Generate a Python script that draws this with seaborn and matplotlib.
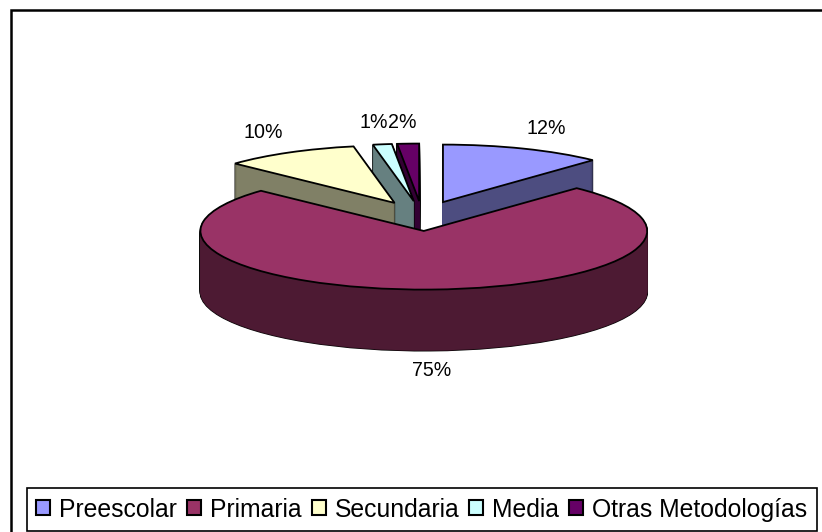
import numpy as np
import matplotlib
matplotlib.use('Agg')
import matplotlib.pyplot as plt
from matplotlib.lines import Line2D
from matplotlib.patches import Patch
import seaborn as sns

categories = ['Preescolar', 'Primaria', 'Secundaria', 'Media', 'Otras Metodologías']
values = [12, 75, 10, 1.4, 1.6]
pct_labels = ['12%', '75%', '10%', '1%', '2%']
hex_colors = ['#9999ff', '#993366', '#ffffcc', '#ccffff', '#660066']

# pixel layout of the picture
W, H = 822, 532
cx, cy = 422, 216      # pie centre
rx, ry = 219, 57.5     # squashed radius
depth = 61             # thickness of the 3d side
label_pos = [(546, 128), (432, 371), (263, 132), (374, 122), (402, 122)]

sns.set_theme(style='white')
plt.rcParams['font.family'] = ['Liberation Sans', 'DejaVu Sans']

palette = sns.color_palette(hex_colors)
sides = [tuple(np.array(c) * 0.5) for c in palette]
explode = [0.26] * len(values)

fig = plt.figure(figsize=(W / 100, H / 100), dpi=100, facecolor='white')
ax = fig.add_axes([0, 0, 1, 1])


def one_slice(i, k, face, edge, lw):
    # Primaria is a touch bigger than the others in the original
    radius = 1.02 if i == 1 else 1
    wedges, _ = ax.pie(values, explode=explode, startangle=90, counterclock=False,
                       center=(0, -k / ry), radius=radius, colors=[face] * len(values),
                       wedgeprops=dict(edgecolor=edge, linewidth=lw))
    for j, w in enumerate(wedges):
        if j != i:
            w.remove()


# back slices first, Primaria goes on top of everything
for i in [0, 4, 3, 2, 1]:
    for k in range(depth, 0, -1):
        one_slice(i, k, 'black', 'black', 1.3)
    for k in range(depth, 0, -1):
        one_slice(i, k, sides[i], sides[i], 0.3)
    one_slice(i, 0, palette[i], 'black', 1.3)

ax.set_aspect('auto')
ax.set_xlim(-cx / rx, (W - cx) / rx)
ax.set_ylim((cy - H) / ry, cy / ry)
ax.axis('off')

for txt, (px, py) in zip(pct_labels, label_pos):
    fig.text(px / W, 1 - py / H, txt, ha='center', va='center', fontsize=14.1, color='black')

# chart frame, only top and left fall inside the picture
fig.add_artist(Line2D([11 / W, 11 / W, 1], [0, 1 - 10 / H, 1 - 10 / H], color='black',
                      lw=1.8, solid_joinstyle='miter'))

handles = [Patch(facecolor=c, edgecolor='black', linewidth=1.5) for c in palette]
leg = fig.legend(handles, categories, ncol=5, loc='lower left',
                 bbox_to_anchor=(27 / W, 1 - 531 / H), borderaxespad=0,
                 fontsize=17.8, handlelength=0.57, handleheight=0.57, handletextpad=0.36,
                 columnspacing=0.40, borderpad=0.38, fancybox=False, framealpha=1,
                 edgecolor='black', facecolor='white', labelcolor='black')
leg.get_frame().set_linewidth(1.2)

fig.savefig('out.png', dpi=100)
